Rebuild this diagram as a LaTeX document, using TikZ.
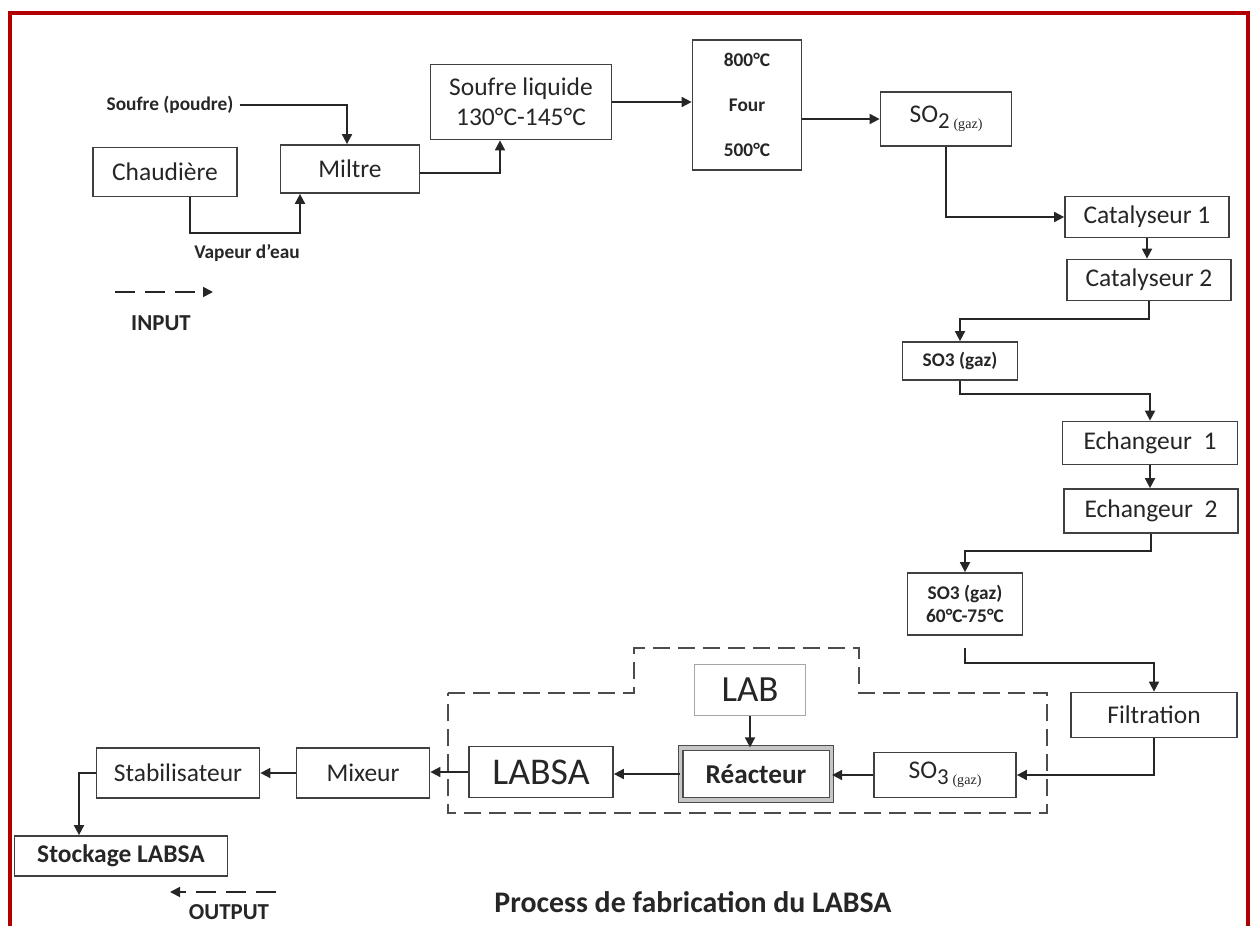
\documentclass[tikz,border=0pt]{standalone}
\usepackage{fontspec}
\setmainfont{Carlito}
\newfontfamily\gazfont{Liberation Serif}
\usetikzlibrary{arrows.meta}

\begin{document}
\begin{tikzpicture}[x=0.02cm,y=-0.02cm,
	box/.style={draw=black!75,line width=1pt,text=black!85,align=center,inner sep=2pt,
		font=\fontsize{14.5}{17}\selectfont},
	sbox/.style={box,font=\bfseries\fontsize{11}{13.5}\selectfont},
	lbl/.style={text=black!85,font=\bfseries\fontsize{11}{13}\selectfont},
	flow/.style={-{Triangle[length=2mm,width=2mm]},line width=1pt,black!85},
	zone/.style={draw=black!70,line width=1pt,dash pattern=on 0.34cm off 0.16cm}]
	\useasboundingbox (0,0) rectangle (1253,926);
	\draw[red!70!black,line width=2.8pt] (10,926) -- (10,13) -- (1248,13) -- (1248,926);

	% upper line
	\node[box,minimum width=2.88cm,minimum height=0.98cm] (chd) at (165,172) {Chaudière};
	\node[box,minimum width=2.78cm,minimum height=0.96cm] (mil) at (350,169) {Miltre};
	\node[box,minimum width=3.62cm,minimum height=1.5cm] (sliq) at (521,102) {Soufre liquide\\130°C-145°C};
	\node[sbox,minimum width=2.18cm,minimum height=2.6cm] (four) at (747,105) {800°C\\[12pt]Four\\[12pt]500°C};
	\node[box,minimum width=2.62cm,minimum height=1.08cm] (so2) at (946,119)
		{SO\raisebox{-0.5ex}{\fontsize{13}{15}\selectfont 2\,{\gazfont\fontsize{8}{9}\selectfont(gaz)}}};
	\node[lbl] (sp) at (170,105) {Soufre (poudre)};
	\node[lbl] (vap) at (247,253) {Vapeur d'eau};

	% right column
	\node[box,minimum width=3.28cm,minimum height=0.82cm] (cat1) at (1147,217) {Catalyseur 1};
	\node[box,minimum width=3.28cm,minimum height=0.82cm] (cat2) at (1149,280) {Catalyseur 2};
	\node[sbox,minimum width=2.3cm,minimum height=0.76cm] (so3a) at (960,361) {SO3 (gaz)};
	\node[box,minimum width=3.5cm,minimum height=0.86cm] (ech1) at (1150,443) {Echangeur~~1};
	\node[box,minimum width=3.48cm,minimum height=0.88cm] (ech2) at (1151,511) {Echangeur~~2};
	\node[sbox,minimum width=2.3cm,minimum height=1.24cm] (so3b) at (965,604) {SO3 (gaz)\\60°C-75°C};
	\node[box,minimum width=3.32cm,minimum height=0.9cm] (filt) at (1154,715) {Filtration};
	\coordinate (sep) at (965,648);

	% lower line
	\node[box,minimum width=2.84cm,minimum height=0.9cm] (so3c) at (945,775)
		{SO\raisebox{-0.5ex}{\fontsize{13}{15}\selectfont 3\,{\gazfont\fontsize{8}{9}\selectfont(gaz)}}};
	\node[box,draw=black!70,double=gray!45,double distance=2pt,line width=0.7pt,
		font=\bfseries\fontsize{15.5}{18}\selectfont,minimum width=3.02cm,minimum height=1.04cm] (reac) at (756,774) {Réacteur};
	\node[box,draw=gray!70,line width=0.6pt,font=\fontsize{21}{24}\selectfont,
		minimum width=2.22cm,minimum height=1.02cm] (lab) at (750,690) {LAB};
	\node[box,font=\fontsize{21.5}{24}\selectfont,minimum width=2.88cm,minimum height=1.02cm] (labsa) at (541,772) {LABSA};
	\node[box,minimum width=2.66cm,minimum height=1cm] (mix) at (363,773) {Mixeur};
	\node[box,minimum width=3.26cm,minimum height=1cm] (stab) at (178,773) {Stabilisateur};
	\node[box,font=\bfseries\fontsize{14.5}{17}\selectfont,minimum width=4.26cm,minimum height=0.8cm] (stock) at (121,856) {Stockage LABSA};

	\draw[zone] (448,693) -- (634,693) -- (634,648) -- (859,648) -- (859,693) -- (1047,693)
		-- (1047,813) -- (448,813) -- cycle;

	% legend and title
	\coordinate (ina) at (115,292);
	\coordinate (inb) at (213,292);
	\coordinate (outa) at (276,892);
	\coordinate (outb) at (170,892);
	\node[lbl,font=\bfseries\fontsize{13}{15}\selectfont] (inp) at (161,323) {INPUT};
	\node[lbl,font=\bfseries\fontsize{13}{15}\selectfont] (outp) at (229,912) {OUTPUT};
	\node[lbl,font=\bfseries\fontsize{17}{20}\selectfont] (title) at (693,902) {Process de fabrication du LABSA};

	% connections
	\draw[flow] (sp.east) -| ([xshift=-0.06cm]mil.north);
	\draw[flow] ([xshift=0.5cm]chd.south) -- ++(0,36) -| ([xshift=-1cm]mil.south);
	\draw[flow] ([yshift=-0.08cm]mil.east) -| ([xshift=-0.42cm]sliq.south);
	\draw[flow] (sliq.east) -- (sliq.east -| four.west);
	\draw[flow] (four.east |- so2.west) -- (so2.west);
	\draw[flow] (so2.south) |- (cat1.west);
	\draw[flow] (cat1.south) -- (cat1.south |- cat2.north);
	\draw[flow] (cat2.south) -- ++(0,18) -| (so3a.north);
	\draw[flow] (so3a.south) -- ++(0,13) -| (ech1.north);
	\draw[flow] (ech1.south) -- (ech1.south |- ech2.north);
	\draw[flow] (ech2.south) -- ++(0,17) -| (so3b.north);
	\draw[flow] (sep) -- ++(0,15) -| (filt.north);
	\draw[flow] (filt.south) |- (so3c.east);
	\draw[flow] (so3c.west) -- (so3c.west -| reac.east);
	\draw[flow] (lab.south) -- (lab.south |- reac.north);
	\draw[flow] (reac.west) -- (reac.west -| labsa.east);
	\draw[flow] (labsa.west) -- (labsa.west -| mix.east);
	\draw[flow] (mix.west) -- (mix.west -| stab.east);
	\draw[flow] (stab.west) -| ([xshift=-0.84cm]stock.north);
	\draw[flow,dash pattern=on 0.4cm off 0.2cm] (ina) -- (inb);
	\draw[flow,dash pattern=on 0.4cm off 0.2cm] (outa) -- (outb);
\end{tikzpicture}
\end{document}
